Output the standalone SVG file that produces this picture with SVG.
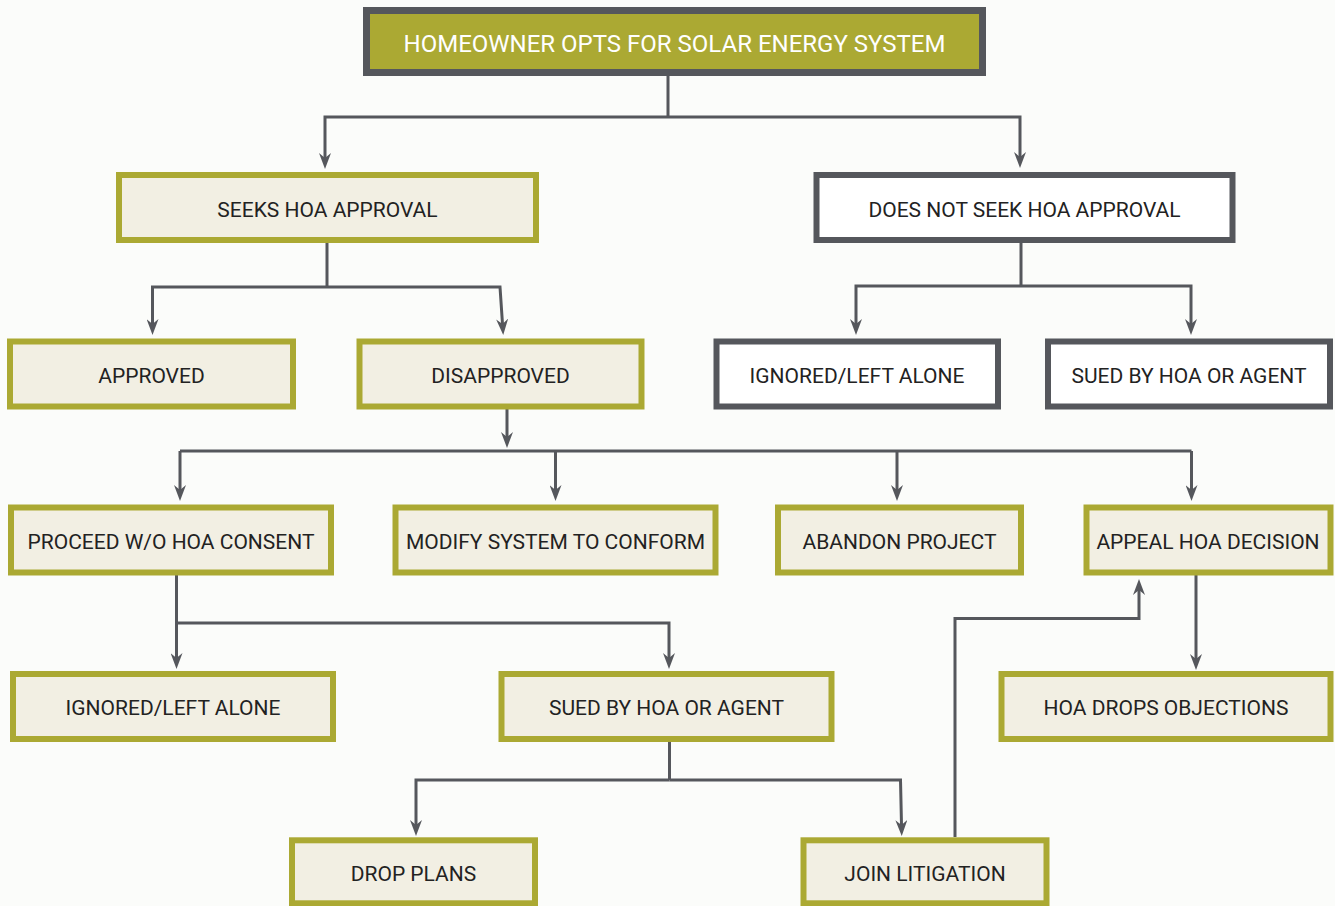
<svg xmlns="http://www.w3.org/2000/svg" width="1335" height="906" viewBox="0 0 1335 906">
<style>
.bg{fill:#FBFCFA}
.node rect{stroke-width:6}
.olive rect{fill:#F2EFE3;stroke:#ABA933}
.dark rect{fill:#FFFFFF;stroke:#55575C}
.title rect{fill:#ABA933;stroke:#55575C;stroke-width:7}
.node text{font-family:Roboto,"Liberation Sans",sans-serif;font-size:21px;fill:#222222;text-anchor:middle}
.title text{fill:#FFFFFF;font-size:24px}
#connectors path{fill:none;stroke:#55575C;stroke-width:3;marker-end:url(#arrow)}
#connectors path.plain{marker-end:none}
</style>
<defs>
<marker id="arrow" viewBox="0 0 16 12" refX="5" refY="6" markerWidth="16" markerHeight="12" markerUnits="userSpaceOnUse" orient="auto">
<path d="M0,0 L16,6 L0,12 L5,6 z" fill="#55575C"/>
</marker>
</defs>
<rect class="bg" x="0" y="0" width="1335" height="906"/>

<g id="connectors">
<path class="plain" d="M668,76 V117"/>
<path d="M668,117 H325 V158"/>
<path d="M668,117 H1020 V157"/>
<path class="plain" d="M327,243 V287"/>
<path d="M327,287 H152.5 V324"/>
<path d="M327,287 H500 L502.5,324"/>
<path class="plain" d="M1021,243 V286"/>
<path d="M1021,286 H856 V324"/>
<path d="M1021,286 H1191 V324"/>
<path d="M507,409 V437"/>
<path d="M180,451 V490"/>
<path class="plain" d="M180,451 H1191.5"/>
<path d="M555.5,451 V490"/>
<path d="M897,451 V490"/>
<path d="M1191.5,451 V490"/>
<path d="M176.5,575 V658"/>
<path d="M176.5,623 H669 V658"/>
<path class="plain" d="M669.5,741 V780"/>
<path d="M669.5,780 H416 V825"/>
<path d="M669.5,780 H900.5 L901.5,825"/>
<path d="M955,837 V618.5 H1139 V590"/>
<path d="M1196,575 V659"/>
</g>

<g id="n-top" class="node title"><rect x="366.5" y="10.5" width="616" height="62"/><text x="674.5" y="51.5">HOMEOWNER OPTS FOR SOLAR ENERGY SYSTEM</text></g>
<g id="n-seeks" class="node olive"><rect x="119" y="175" width="417" height="65"/><text x="327.5" y="216.5">SEEKS HOA APPROVAL</text></g>
<g id="n-noseek" class="node dark"><rect x="816.5" y="175" width="416" height="65"/><text x="1024.5" y="216.5">DOES NOT SEEK HOA APPROVAL</text></g>
<g id="n-approved" class="node olive"><rect x="10" y="341.5" width="283" height="65"/><text x="151.5" y="382.5">APPROVED</text></g>
<g id="n-disapproved" class="node olive"><rect x="359.5" y="341.5" width="282" height="65"/><text x="500.5" y="382.5">DISAPPROVED</text></g>
<g id="n-ignored1" class="node dark"><rect x="716.5" y="341.5" width="281.5" height="65"/><text x="857" y="382.5">IGNORED/LEFT ALONE</text></g>
<g id="n-sued1" class="node dark"><rect x="1048" y="341.5" width="282" height="65"/><text x="1189" y="382.5">SUED BY HOA OR AGENT</text></g>
<g id="n-proceed" class="node olive"><rect x="11" y="507.5" width="320" height="65"/><text x="171" y="548.5">PROCEED W/O HOA CONSENT</text></g>
<g id="n-modify" class="node olive"><rect x="395.5" y="507.5" width="320" height="65"/><text x="555.5" y="548.5">MODIFY SYSTEM TO CONFORM</text></g>
<g id="n-abandon" class="node olive"><rect x="778" y="507.5" width="243" height="65"/><text x="899.5" y="548.5">ABANDON PROJECT</text></g>
<g id="n-appeal" class="node olive"><rect x="1086.5" y="507.5" width="244" height="65"/><text x="1208" y="548.5">APPEAL HOA DECISION</text></g>
<g id="n-ignored2" class="node olive"><rect x="13" y="674" width="320" height="65"/><text x="173" y="715">IGNORED/LEFT ALONE</text></g>
<g id="n-sued2" class="node olive"><rect x="501.5" y="674" width="330" height="65"/><text x="666.5" y="715">SUED BY HOA OR AGENT</text></g>
<g id="n-drops" class="node olive"><rect x="1001.5" y="674" width="329" height="65"/><text x="1166" y="715">HOA DROPS OBJECTIONS</text></g>
<g id="n-dropplans" class="node olive"><rect x="292" y="840.3" width="243" height="63"/><text x="413.5" y="880.5">DROP PLANS</text></g>
<g id="n-join" class="node olive"><rect x="803.5" y="840.3" width="243" height="63"/><text x="925" y="880.5">JOIN LITIGATION</text></g>
</svg>
